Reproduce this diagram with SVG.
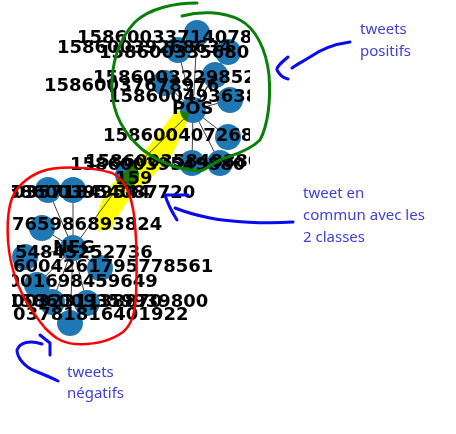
<svg xmlns="http://www.w3.org/2000/svg" width="456" height="434" viewBox="0 0 456 434">
<style>
.e{stroke:#404040;stroke-width:1;fill:none}
.n{fill:#1f78b4}
.lb{font-family:"DejaVu Sans",sans-serif;font-weight:bold;font-size:18px;fill:#000}
.an{font-family:"Noto Sans","Open Sans",sans-serif;font-size:15px;fill:#4040d8}
.pen{fill:none;stroke-linecap:round;stroke-linejoin:round}
</style>
<defs>
<clipPath id="plot"><rect x="12" y="0" width="238" height="434"/></clipPath>
</defs>
<rect width="456" height="434" fill="#fff"/>
<g clip-path="url(#plot)">
<g id="connectors">
<path class="e" d="M193,110L197,33M193,110L178,50M193,110L228,52M193,110L215,75M193,110L165,83M193,110L230,100M193,110L228,137M193,110L192,163M193,110L220,163M193,110L127,175"/>
<path class="e" d="M127,175L73,248M73,248L48,190M73,248L73,190M73,248L42,228M73,248L25,257M73,248L100,268M73,248L37,285M73,248L52,302M73,248L87,303M73,248L70,323"/>
</g>
<g id="node-pos-1"><circle class="n" cx="197" cy="33" r="13"/></g>
<g id="node-pos-2"><circle class="n" cx="178" cy="50" r="13"/></g>
<g id="node-pos-3"><circle class="n" cx="228" cy="52" r="13"/></g>
<g id="node-pos-4"><circle class="n" cx="215" cy="75" r="13"/></g>
<g id="node-pos-5"><circle class="n" cx="165" cy="83" r="13"/></g>
<g id="node-pos-6"><circle class="n" cx="230" cy="100" r="13"/></g>
<g id="node-POS"><circle class="n" cx="193" cy="110" r="13"/></g>
<g id="node-pos-7"><circle class="n" cx="228" cy="137" r="13"/></g>
<g id="node-pos-8"><circle class="n" cx="192" cy="163" r="13"/></g>
<g id="node-pos-9"><circle class="n" cx="220" cy="163" r="13"/></g>
<g id="node-159"><circle class="n" cx="127" cy="175" r="12"/></g>
<g id="node-neg-1"><circle class="n" cx="48" cy="190" r="13"/></g>
<g id="node-neg-2"><circle class="n" cx="73" cy="190" r="13"/></g>
<g id="node-neg-3"><circle class="n" cx="42" cy="228" r="13"/></g>
<g id="node-NEG"><circle class="n" cx="73" cy="248" r="13"/></g>
<g id="node-neg-4"><circle class="n" cx="25" cy="257" r="13"/></g>
<g id="node-neg-5"><circle class="n" cx="100" cy="268" r="13"/></g>
<g id="node-neg-6"><circle class="n" cx="37" cy="285" r="13"/></g>
<g id="node-neg-7"><circle class="n" cx="52" cy="302" r="13"/></g>
<g id="node-neg-8"><circle class="n" cx="87" cy="303" r="13"/></g>
<g id="node-neg-9"><circle class="n" cx="70" cy="323" r="13"/></g>
<g id="labels">
<text class="lb" x="77" y="43">15860033714078</text>
<text class="lb" x="57" y="53">15860039268634</text>
<text class="lb" x="99" y="58">15860033568088</text>
<text class="lb" x="93" y="83">1586003229852</text>
<text class="lb" x="44" y="91">15860037678976</text>
<text class="lb" x="108" y="102">1586004936380</text>
<text class="lb" x="172" y="114">POS</text>
<text class="lb" x="103" y="141">158600407268</text>
<text class="lb" x="70" y="170">15860039549880</text>
<text class="lb" x="85" y="167">15860035848880</text>
<text class="lb" x="115" y="184">159</text>
<text class="lb" x="-50" y="198">1586003571849544</text>
<text class="lb" x="-5" y="198">1586003954087720</text>
<text class="lb" x="12" y="230">765986893824</text>
<text class="lb" x="53" y="253">NEG</text>
<text class="lb" x="15" y="258">54845252736</text>
<text class="lb" x="13" y="272">6004261795778561</text>
<text class="lb" x="-42.5" y="287">1586001698459649</text>
<text class="lb" x="-38" y="307">1586003231138870</text>
<text class="lb" x="8" y="307">1586009359939800</text>
<text class="lb" x="-49.5" y="320">1586003781816401922</text>
</g>
</g>
<g id="annotations">
<path d="M176,110L189,113L186,125L172,155L157,172L138,188L125,205L111,229L98,231L97,215L100,205L108,188L125,172L142,155L165,125Z" fill="#ffff00" style="mix-blend-mode:multiply"/>
<path class="pen" stroke="#0a800a" stroke-width="3" d="M197,3C175,3 150,8 135,22C118,40 111,65 112,90C113,115 125,135 143,150C160,163 180,170 200,171C210,168 215,160 228,157C240,153 252,148 260,140C268,125 271,100 269,75C266,48 255,28 240,20C222,11 200,11 182,16"/>
<path class="pen" stroke="#ff0000" stroke-width="2.5" d="M40,172C55,166 90,166 112,173C126,180 131,195 134,215C137,240 137,270 136,295C135,315 131,325 123,332C112,340 95,345 75,344C60,343 52,335 45,328C32,312 20,295 13,270C6,245 6,215 12,198C18,185 28,177 40,172"/>
<path class="pen" stroke="#0a0af0" stroke-width="3" d="M350,42C335,44 320,50 310,57C302,62 296,65 292,68M288,57C282,62 276,67 277,70C279,74 283,78 288,79"/>
<path class="pen" stroke="#0a0af0" stroke-width="3" d="M293,222C265,224 230,222 210,218C195,215 185,212 175,208M188,195L165,195C168,205 172,212 177,220"/>
<path class="pen" stroke="#0a0af0" stroke-width="3" d="M40,335L50,343L50,355M42,344C30,340 20,342 17,350C17,358 25,367 35,371C45,375 52,378 58,381"/>
<text class="an" x="360" y="34">tweets</text>
<text class="an" x="360" y="56">positifs</text>
<text class="an" x="303" y="198">tweet en</text>
<text class="an" x="303" y="220">commun avec les</text>
<text class="an" x="303" y="242">2 classes</text>
<text class="an" x="67" y="377">tweets</text>
<text class="an" x="67" y="398">négatifs</text>
</g>
</svg>
